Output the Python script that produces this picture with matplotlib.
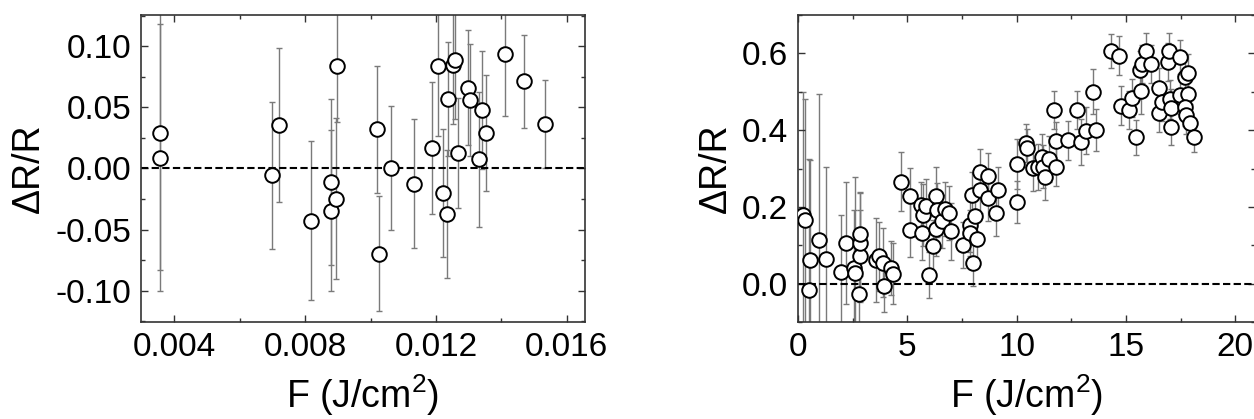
import numpy as np
import matplotlib
matplotlib.use("Agg")
import matplotlib.pyplot as plt
from matplotlib.ticker import MultipleLocator

plt.rcParams['font.family'] = ['Liberation Sans', 'DejaVu Sans']
plt.rcParams['mathtext.default'] = 'regular'

# left panel: low fluence
f_left = [0.00356, 0.00356, 0.00700, 0.00720, 0.00818, 0.00879, 0.00879, 0.00894,
          0.00898, 0.01021, 0.01027, 0.01063, 0.01133, 0.01188, 0.01205, 0.01221,
          0.01233, 0.01236, 0.01251, 0.01259, 0.01267, 0.01299, 0.01304, 0.01333,
          0.01340, 0.01352, 0.01412, 0.01470, 0.01534]
dr_left = [0.0287, 0.0088, -0.0055, 0.0355, -0.0426, -0.0109, -0.0344, -0.0246,
           0.0839, 0.0320, -0.0697, 0.0005, -0.0123, 0.0170, 0.0839, -0.0200,
           -0.0372, 0.0566, 0.0847, 0.0885, 0.0128, 0.0660, 0.0560, 0.0074,
           0.0478, 0.0287, 0.0940, 0.0713, 0.0366]
err_left = [0.112, 0.109, 0.060, 0.063, 0.065, 0.068, 0.066, 0.066,
            0.046, 0.052, 0.047, 0.0505, 0.0525, 0.054, 0.057, 0.052,
            0.052, 0.0465, 0.048, 0.048, 0.045, 0.047, 0.046, 0.055,
            0.048, 0.0475, 0.051, 0.038, 0.036]

# right panel: high fluence
f_right = [0.25, 0.32, 0.50, 0.56, 0.96, 1.26, 1.95, 2.21, 2.54, 2.60,
           2.79, 2.82, 2.85, 2.85, 3.58, 3.70, 3.88, 3.93, 4.27, 4.34,
           4.70, 5.12, 5.10, 5.64, 5.70, 5.66, 5.87, 6.00, 6.18, 6.33,
           6.35, 6.33, 6.60, 6.70, 6.90, 7.01, 7.54, 7.95, 7.88, 7.86,
           8.00, 8.10, 8.20, 8.31, 8.31, 8.71, 8.71, 9.16, 9.05, 10.01,
           10.00, 10.44, 10.47, 10.75, 10.97, 11.17, 11.20, 11.28, 11.48, 11.78,
           11.69, 11.78, 12.36, 12.76, 12.93, 13.16, 13.65, 13.49, 14.33, 14.67,
           14.79, 15.14, 15.29, 15.44, 15.67, 15.63, 15.75, 15.93, 16.16, 16.51,
           16.51, 16.66, 16.92, 16.97, 17.00, 17.08, 17.05, 17.46, 17.46, 17.69,
           17.84, 17.84, 17.69, 17.73, 17.95, 18.11]
dr_right = [0.180, 0.165, -0.016, 0.062, 0.113, 0.064, 0.029, 0.106, 0.041, 0.028,
            -0.026, 0.073, 0.106, 0.129, 0.062, 0.071, 0.054, -0.005, 0.041, 0.026,
            0.266, 0.228, 0.140, 0.205, 0.179, 0.132, 0.202, 0.023, 0.097, 0.228,
            0.192, 0.142, 0.162, 0.194, 0.184, 0.136, 0.101, 0.230, 0.153, 0.132,
            0.053, 0.176, 0.116, 0.291, 0.244, 0.280, 0.223, 0.243, 0.185, 0.311,
            0.213, 0.367, 0.353, 0.301, 0.305, 0.329, 0.305, 0.277, 0.324, 0.305,
            0.452, 0.372, 0.373, 0.452, 0.370, 0.399, 0.400, 0.500, 0.606, 0.594,
            0.464, 0.452, 0.483, 0.381, 0.502, 0.557, 0.572, 0.607, 0.572, 0.511,
            0.445, 0.474, 0.578, 0.607, 0.480, 0.407, 0.457, 0.591, 0.491, 0.539,
            0.548, 0.493, 0.461, 0.440, 0.418, 0.383]
err_right = [0.32, 0.315, 0.34, 0.26, 0.38, 0.24, 0.15, 0.16, 0.15, 0.25,
             0.09, 0.12, 0.13, 0.11, 0.11, 0.09, 0.09, 0.07, 0.07, 0.08,
             0.078, 0.074, 0.07, 0.06, 0.08, 0.07, 0.07, 0.06, 0.07, 0.075,
             0.07, 0.07, 0.07, 0.07, 0.07, 0.075, 0.06, 0.06, 0.07, 0.06,
             0.06, 0.06, 0.07, 0.06, 0.06, 0.06, 0.06, 0.06, 0.06, 0.065,
             0.055, 0.05, 0.05, 0.06, 0.06, 0.06, 0.055, 0.06, 0.06, 0.05,
             0.05, 0.05, 0.05, 0.05, 0.06, 0.06, 0.055, 0.058, 0.045, 0.05,
             0.05, 0.05, 0.05, 0.045, 0.06, 0.05, 0.05, 0.045, 0.05, 0.05,
             0.05, 0.05, 0.05, 0.045, 0.05, 0.045, 0.05, 0.045, 0.05, 0.05,
             0.05, 0.05, 0.05, 0.05, 0.05, 0.04]

fig = plt.figure(figsize=(12.54, 4.19), dpi=100)
ax1 = fig.add_axes([141/1254, 97/419, 444/1254, 307/419])
ax2 = fig.add_axes([798/1254, 97/419, 457/1254, 307/419])


def panel(ax, f, dr, err):
    ax.errorbar(f, dr, yerr=err, fmt='none', ecolor='#7a7a7a', elinewidth=1.0,
                capsize=2.5, capthick=1.0, zorder=1)
    ax.plot(f, dr, 'o', ms=10.5, mfc='white', mec='black', mew=1.4, zorder=3)
    ax.axhline(0, color='black', lw=1.5, ls=(0, (3.5, 1.6)), zorder=2)
    ax.tick_params(which='both', direction='in', top=True, right=True,
                   labelsize=24, width=1, color='#333333')
    ax.tick_params(which='major', length=5, pad=7)
    ax.tick_params(which='minor', length=3)
    for s in ax.spines.values():
        s.set_linewidth(1.2)
        s.set_color('#333333')
    ax.set_xlabel('F (J/cm$^2$)', fontsize=27, labelpad=7)
    ax.set_ylabel('ΔR/R', fontsize=27, labelpad=6)


panel(ax1, f_left, dr_left, err_left)
ax1.set_xlim(0.00298, 0.01656)
ax1.set_ylim(-0.1255, 0.1255)
ax1.xaxis.set_major_locator(MultipleLocator(0.004))
ax1.xaxis.set_minor_locator(MultipleLocator(0.002))
ax1.yaxis.set_major_locator(MultipleLocator(0.05))
ax1.yaxis.set_minor_locator(MultipleLocator(0.025))
ax1.xaxis.set_major_formatter(lambda v, p: f'{v:.3f}')
ax1.yaxis.set_major_formatter(lambda v, p: f'{v:.2f}')

panel(ax2, f_right, dr_right, err_right)
ax2.set_xlim(0, 20.9)
ax2.set_ylim(-0.1, 0.7)
ax2.xaxis.set_major_locator(MultipleLocator(5))
ax2.xaxis.set_minor_locator(MultipleLocator(2.5))
ax2.yaxis.set_minor_locator(MultipleLocator(0.1))
ax2.set_yticks([0.0, 0.2, 0.4, 0.6])
ax2.yaxis.set_major_formatter(lambda v, p: f'{v:.1f}')
ax2.xaxis.set_major_formatter(lambda v, p: f'{v:.0f}')

fig.savefig('out.png', dpi=100)
